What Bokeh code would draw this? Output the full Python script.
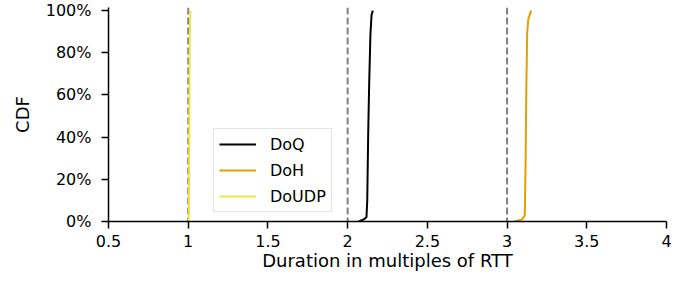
from bokeh.plotting import figure
from bokeh.models import Range1d, FixedTicker, Span, Legend, LegendItem
from bokeh.embed import file_html
from bokeh.resources import INLINE

# ---- data ----
doq_x = [2.070, 2.101, 2.118, 2.123, 2.129, 2.135, 2.143, 2.150, 2.158]
doq_y = [0.00, 0.01, 0.02, 0.10, 0.42, 0.65, 0.89, 0.98, 1.00]
doh_x = [3.047, 3.095, 3.111, 3.116, 3.120, 3.126, 3.133, 3.151]
doh_y = [0.00, 0.01, 0.03, 0.26, 0.58, 0.89, 0.96, 1.00]
doudp_x = [1.003, 1.005, 1.007, 1.010, 1.013, 1.016]
doudp_y = [0.00, 0.05, 0.50, 0.90, 0.98, 1.00]
rtt_marks = [1, 2, 3]
series_names = ["DoQ", "DoH", "DoUDP"]
series_colors = ["#000000", "#E69F00", "#F0E442"]
x_ticks = [0.5, 1, 1.5, 2, 2.5, 3, 3.5, 4]
x_tick_labels = ["0.5", "1", "1.5", "2", "2.5", "3", "3.5", "4"]
y_ticks = [0, 0.2, 0.4, 0.6, 0.8, 1.0]
y_tick_labels = ["0%", "20%", "40%", "60%", "80%", "100%"]

FONT = "DejaVu Sans"

p = figure(width=680, height=274, output_backend="svg", toolbar_location=None,
           x_range=Range1d(0.5, 4.0), y_range=Range1d(0, 1.015),
           min_border_left=108, min_border_right=14, min_border_top=7,
           min_border_bottom=53)
p.outline_line_color = None
p.xgrid.visible = False
p.ygrid.visible = False
p.background_fill_color = "white"
p.border_fill_color = "white"

for s in rtt_marks:
    p.add_layout(Span(location=s, dimension="height", line_color="#808080",
                      line_width=2, line_dash="7 3", level="underlay"))

r_doq = p.line(doq_x, doq_y, line_color=series_colors[0], line_width=2)
r_doh = p.line(doh_x, doh_y, line_color=series_colors[1], line_width=2)
r_udp = p.line(doudp_x, doudp_y, line_color=series_colors[2], line_width=2)

for ax in (p.xaxis[0], p.yaxis[0]):
    ax.axis_line_width = 1.5
    ax.major_tick_line_width = 1.5
    ax.major_tick_out = 7
    ax.major_tick_in = 0
    ax.minor_tick_out = 0
    ax.minor_tick_in = 0
    ax.major_label_text_font = FONT
    ax.major_label_text_font_size = "16px"
    ax.major_label_text_color = "black"
    ax.axis_label_text_font = FONT
    ax.axis_label_text_font_size = "18px"
    ax.axis_label_text_font_style = "normal"
    ax.axis_label_text_color = "black"

p.xaxis.major_label_standoff = 6
p.yaxis.major_label_standoff = 10
p.xaxis.ticker = FixedTicker(ticks=x_ticks)
p.xaxis.major_label_overrides = dict(zip(x_ticks, x_tick_labels))
p.yaxis.ticker = FixedTicker(ticks=y_ticks)
p.yaxis.major_label_overrides = dict(zip(y_ticks, y_tick_labels))
p.xaxis.axis_label = "Duration in multiples of RTT"
p.yaxis.axis_label = "CDF"
p.xaxis.axis_label_standoff = 0
p.yaxis.axis_label_standoff = 10

legend = Legend(items=[LegendItem(label=n, renderers=[r]) for n, r in
                       zip(series_names, [r_doq, r_doh, r_udp])],
                location=(105, 9))
legend.label_text_font = FONT
legend.label_text_font_size = "16px"
legend.label_text_color = "black"
legend.glyph_width = 37
legend.glyph_height = 20
legend.label_standoff = 14
legend.spacing = 6
legend.padding = 5
legend.margin = 0
legend.border_line_color = "#cccccc"
legend.border_line_width = 1
legend.background_fill_alpha = 0.8
p.add_layout(legend, "center")

open("out.html", "w").write(file_html(p, INLINE))
